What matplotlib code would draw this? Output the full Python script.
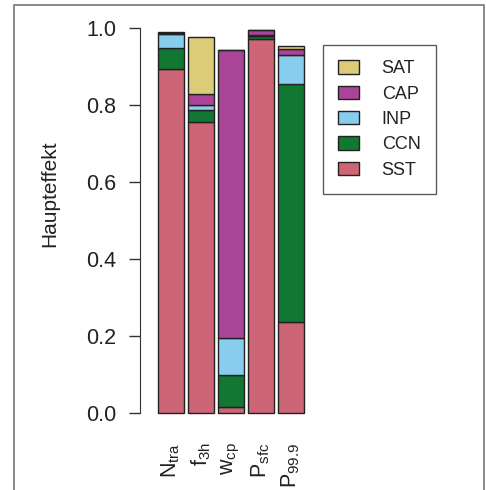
import matplotlib
matplotlib.use("Agg")
import matplotlib.pyplot as plt
from matplotlib.patches import Rectangle, Patch
import numpy as np

plt.rcParams['font.family'] = ['Liberation Sans', 'DejaVu Sans']
plt.rcParams['mathtext.fontset'] = 'custom'
plt.rcParams['mathtext.rm'] = 'Liberation Sans'
plt.rcParams['mathtext.it'] = 'Liberation Sans'

# Output quantities (x axis) and main-effect contributions per parameter
categories = [r'$\mathregular{N_{tra}}$', r'$\mathregular{f_{3h}}$', r'$\mathregular{w_{cp}}$',
              r'$\mathregular{P_{sfc}}$', r'$\mathregular{P_{99.9}}$']
SST = [0.894, 0.757, 0.016, 0.972, 0.237]
CCN = [0.054, 0.030, 0.083, 0.006, 0.617]
INP = [0.036, 0.013, 0.097, 0.004, 0.075]
CAP = [0.004, 0.028, 0.747, 0.012, 0.016]
SAT = [0.002, 0.149, 0.000, 0.002, 0.008]

series = [("SST", SST, "#CC6677"), ("CCN", CCN, "#117733"), ("INP", INP, "#88CCEE"),
          ("CAP", CAP, "#AA4499"), ("SAT", SAT, "#DDCC77")]

W, H = 486, 490
fig = plt.figure(figsize=(W / 100, H / 100), dpi=100)

# outer frame
fig.patches.append(Rectangle((14 / W, -0.05), (484 - 14) / W, 1.05 - 5 / H,
                             transform=fig.transFigure, fill=False,
                             edgecolor="#777777", linewidth=1.2))

ax = fig.add_axes([140 / W, (490 - 428.4) / H, 169 / W, 415.8 / H])
ax.set_facecolor("none")
x = np.arange(len(categories))
bottom = np.zeros(len(categories))
for name, vals, col in series:
    vals = np.array(vals)
    ax.bar(x, vals, width=0.867, bottom=bottom, color=col, edgecolor="#222222",
           linewidth=1.0, label=name)
    bottom += vals

ax.set_ylim(-0.04, 1.04)
ax.set_xlim(-1.033, 4.6)
for s in ["top", "right", "bottom"]:
    ax.spines[s].set_visible(False)
ax.spines["left"].set_bounds(0, 1)
ax.spines["left"].set_color("#333333")
ax.set_yticks([0, 0.2, 0.4, 0.6, 0.8, 1.0])
ax.set_yticklabels(["0.0", "0.2", "0.4", "0.6", "0.8", "1.0"])
ax.tick_params(axis="y", length=8, width=1, color="#333333", pad=9, labelsize=15.5,
               labelcolor="#222222")
ax.set_xticks(x)
ax.set_xticklabels(categories, rotation=90, fontsize=15.5, color="#222222")
ax.tick_params(axis="x", length=0, pad=10)

fig.text(50 / W, 1 - 194 / H, "Haupteffekt", rotation=90, ha="center", va="center",
         fontsize=15, color="#222222")

handles = [Patch(facecolor=c, edgecolor="#222222", label=n) for n, _, c in series[::-1]]
leg = fig.legend(handles=handles, loc="upper left",
                 bbox_to_anchor=(323 / W, 1 - 45 / H), frameon=True, fancybox=False,
                 edgecolor="#333333", fontsize=13, handlelength=1.15, handleheight=0.75,
                 labelspacing=0.46, borderpad=0.85, handletextpad=1.25, borderaxespad=0)
leg.get_frame().set_linewidth(1.0)
for t in leg.get_texts():
    t.set_color("#222222")

fig.savefig("out.png", dpi=100)
